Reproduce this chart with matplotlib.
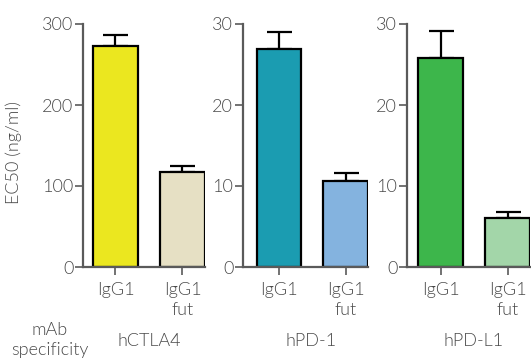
import matplotlib.pyplot as plt

plt.rcParams["font.family"] = ["Lato", "DejaVu Sans"]
plt.rcParams["font.weight"] = 300
plt.rcParams["axes.labelweight"] = 300

# data
groups = ["hCTLA4", "hPD-1", "hPD-L1"]
tick_labels = ["IgG1", "IgG1\nfut"]
ec50 = [[273, 117], [26.9, 10.6], [25.8, 6.0]]
err = [[14, 8], [2.1, 1.0], [3.3, 0.8]]
ymax = [300, 30, 30]
yticks = [[0, 100, 200, 300], [0, 10, 20, 30], [0, 10, 20, 30]]
colors = [["#ebe71f", "#e6e0c4"], ["#1b9cb1", "#84b3df"], ["#3db64b", "#a3d6a9"]]

W, H = 531, 358
# axes boxes in pixels: left spine, right end
boxes = [(83, 205), (243, 368), (407, 530)]
xlims = [(-0.485, 1.336), (-0.537, 1.33), (-0.5, 1.33)]
top, bottom = 24, 267
txt = "#4a4a4a"

fig = plt.figure(figsize=(W / 100, H / 100), dpi=100)
gray = "#5a5a5a"
for i in range(3):
    l, r = boxes[i]
    ax = fig.add_axes([l / W, 1 - bottom / H, (r - l) / W, (bottom - top) / H])
    x = [0, 1]
    ax.bar(x, ec50[i], width=0.67, color=colors[i], edgecolor="black", linewidth=1.6, zorder=2)
    ax.errorbar(x, ec50[i], yerr=[[0, 0], err[i]], fmt="none", ecolor="black",
                elinewidth=1.6, capsize=9, capthick=1.6, zorder=1)
    ax.set_xlim(*xlims[i])
    ax.set_ylim(0, ymax[i])
    ax.set_yticks(yticks[i])
    ax.set_xticks(x)
    ax.set_xticklabels(tick_labels, linespacing=1.3)
    for s in ["top", "right"]:
        ax.spines[s].set_visible(False)
    for s in ["left", "bottom"]:
        ax.spines[s].set_color(gray)
        ax.spines[s].set_linewidth(1.6)
    ax.tick_params(colors=gray, width=1.2, length=6, labelsize=13, labelcolor=txt, pad=1)
    ax.tick_params(axis="x", pad=5)
    ax.patch.set_alpha(0)
    fig.text((l + r) / 2 / W + 0.01, 1 - 341 / H, groups[i], ha="center", va="center",
             fontsize=13, color=txt)
    if i == 0:
        ax.set_ylabel("EC50 (ng/ml)", fontsize=13, color=txt)
        ax.yaxis.set_label_coords(-0.5, 0.473)

fig.text(50 / W, 1 - 340 / H, "mAb\nspecificity", ha="center", va="center",
         fontsize=13, color=txt, linespacing=1.3)

fig.savefig("out.png", dpi=100)
